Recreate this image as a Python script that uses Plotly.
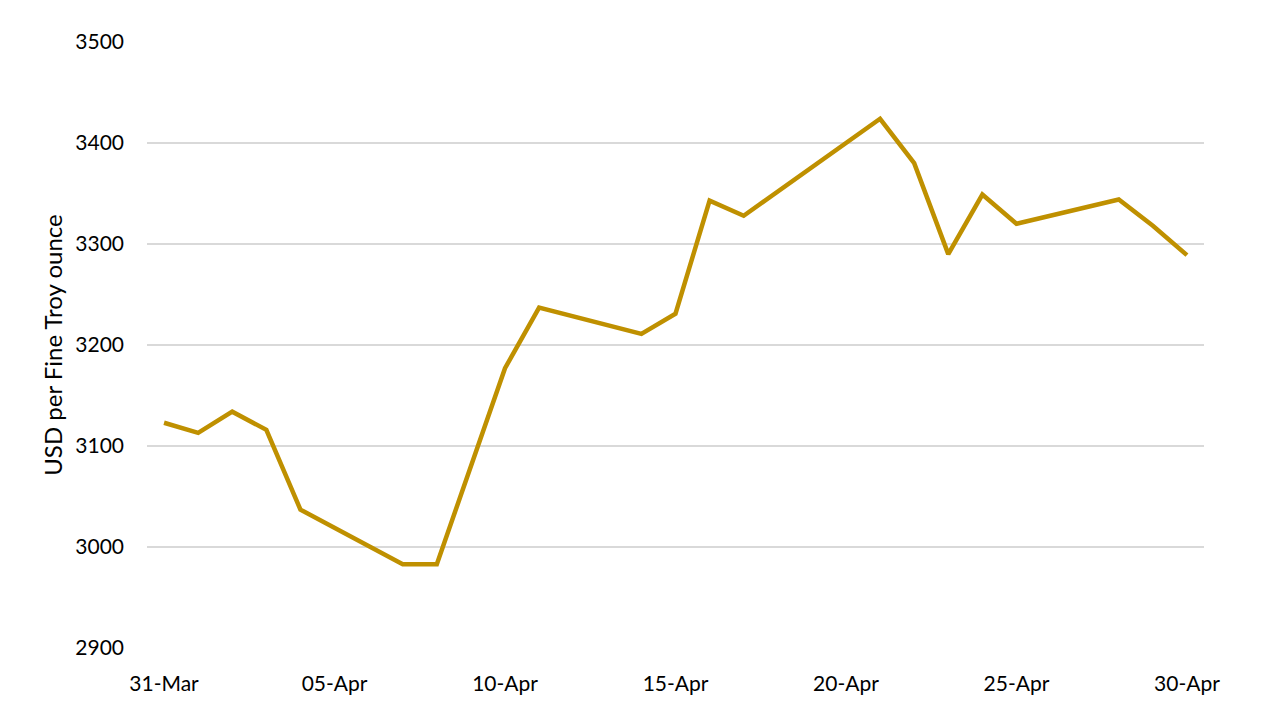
import plotly.graph_objects as go

dates = ["2025-03-31", "2025-04-01", "2025-04-02", "2025-04-03", "2025-04-04",
         "2025-04-07", "2025-04-08", "2025-04-09", "2025-04-10", "2025-04-11",
         "2025-04-14", "2025-04-15", "2025-04-16", "2025-04-17",
         "2025-04-21", "2025-04-22", "2025-04-23", "2025-04-24", "2025-04-25",
         "2025-04-28", "2025-04-29", "2025-04-30"]
prices = [3123, 3113, 3134, 3116, 3037,
          2983, 2983, 3080, 3177, 3237,
          3211, 3231, 3343, 3328,
          3424, 3380, 3290, 3349, 3320,
          3344, 3318, 3289]

x_ticks = ["2025-03-31", "2025-04-05", "2025-04-10", "2025-04-15",
           "2025-04-20", "2025-04-25", "2025-04-30"]
x_tick_labels = ["31-Mar", "05-Apr", "10-Apr", "15-Apr", "20-Apr", "25-Apr", "30-Apr"]
y_ticks = [2900, 3000, 3100, 3200, 3300, 3400, 3500]
y_title = "USD per Fine Troy ounce"

FONT = "Lato"

fig = go.Figure()
fig.add_trace(go.Scatter(
    x=dates, y=prices, mode="lines",
    line=dict(color="#BF9000", width=4.5),
    hoverinfo="x+y",
))

# page body has an 8px margin, so the figure is 1264x704 and offsets are reduced by 8
fig.update_layout(
    width=1264, height=704,
    paper_bgcolor="white", plot_bgcolor="white",
    margin=dict(l=139, r=68, t=34, b=64, autoexpand=False),
    showlegend=False,
    font=dict(family=FONT, size=21, color="#000000"),
)
fig.update_xaxes(
    type="date",
    range=["2025-03-30 12:00", "2025-04-30 12:00"],
    tickvals=x_ticks, ticktext=x_tick_labels,
    showgrid=False, zeroline=False, showline=False,
    ticks="", ticklabelstandoff=21,
    tickfont=dict(family=FONT, size=21, color="#000000"),
    automargin=False,
)
fig.update_yaxes(
    range=[2900, 3500],
    tickvals=y_ticks,
    showgrid=True, gridcolor="#D9D9D9", gridwidth=2,
    zeroline=False, showline=False, ticks="",
    ticklabelstandoff=22,
    tickfont=dict(family=FONT, size=21, color="#000000"),
    title=dict(text=y_title, font=dict(family=FONT, size=24, color="#000000"), standoff=5),
    automargin=False,
)

fig.write_html("out.html")
